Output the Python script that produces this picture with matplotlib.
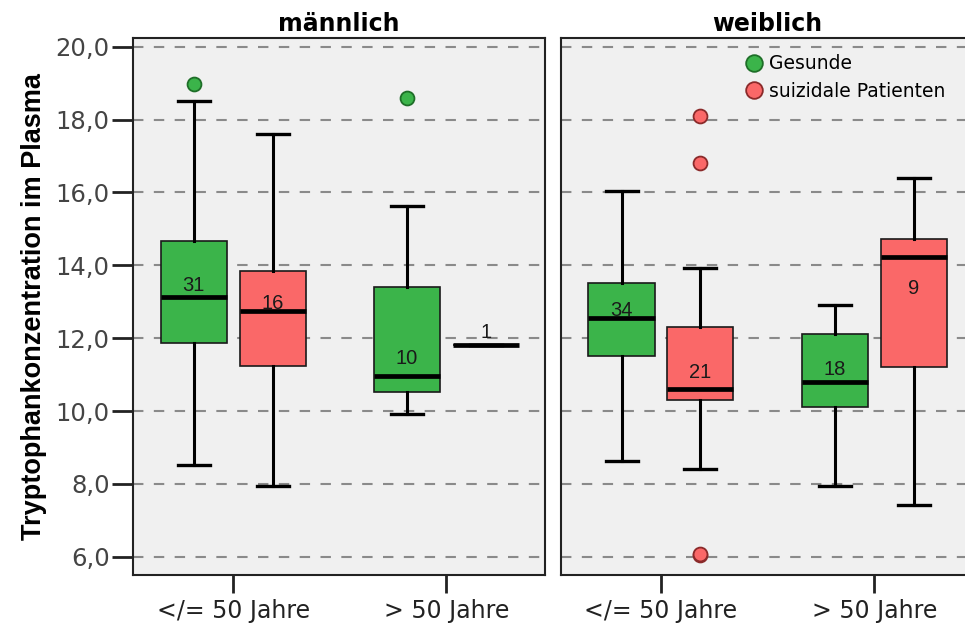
import matplotlib
matplotlib.use("Agg")
import matplotlib.pyplot as plt
from matplotlib.lines import Line2D

plt.rcParams["font.family"] = ["Liberation Sans", "DejaVu Sans"]
WIDE = ["DejaVu Sans"]

# Altersgruppen und Gruppen
age_groups = ["</= 50 Jahre", "> 50 Jahre"]
sexes = ["männlich", "weiblich"]
groups = ["Gesunde", "suizidale Patienten"]

# Kennwerte je Geschlecht -> Altersgruppe -> [Gesunde, suizidale Patienten]
whislo = {"männlich": [[8.51, 7.93], [9.93, 11.82]],
          "weiblich": [[8.62, 8.41], [7.93, 7.41]]}
q1 = {"männlich": [[11.87, 11.25], [10.52, 11.82]],
      "weiblich": [[11.50, 10.31], [10.10, 11.20]]}
median = {"männlich": [[13.12, 12.74], [10.97, 11.82]],
          "weiblich": [[12.55, 10.60], [10.81, 14.22]]}
q3 = {"männlich": [[14.66, 13.85], [13.41, 11.82]],
      "weiblich": [[13.51, 12.30], [12.11, 14.72]]}
whishi = {"männlich": [[18.50, 17.60], [15.62, 11.82]],
          "weiblich": [[16.05, 13.92], [12.92, 16.41]]}
outliers = {"männlich": [[[18.98], []], [[18.59], []]],
            "weiblich": [[[], [18.10, 16.81, 6.05, 6.08]], [[], []]]}
n_counts = {"männlich": [[31, 16], [10, 1]],
            "weiblich": [[34, 21], [18, 9]]}
# Lage der Fallzahl-Beschriftung (Mittelwert)
label_y = {"männlich": [[13.45, 12.95], [11.45, 12.15]],
           "weiblich": [[12.75, 11.05], [11.15, 13.35]]}

yticks = [6, 8, 10, 12, 14, 16, 18, 20]

fill_colors = ["#3bb44a", "#fa6868"]
edge_colors = ["#1e6e28", "#8a2a2a"]

fig = plt.figure(figsize=(9.65, 6.23), dpi=100)
ax_l = fig.add_axes([0.1381, 0.0770, 0.4269, 0.8615])
ax_r = fig.add_axes([0.5813, 0.0770, 0.4269, 0.8615])

offset = 0.185
box_w = 0.31

for ax, sex in zip([ax_l, ax_r], sexes):
    ax.set_facecolor("#f0f0f0")
    for y in yticks:
        ax.axhline(y, color="#8a8a8a", lw=1.5, dashes=(5, 5), zorder=0)
    for ai in range(len(age_groups)):
        for gi in range(len(groups)):
            stats = [{
                "whislo": whislo[sex][ai][gi],
                "q1": q1[sex][ai][gi],
                "med": median[sex][ai][gi],
                "q3": q3[sex][ai][gi],
                "whishi": whishi[sex][ai][gi],
                "fliers": outliers[sex][ai][gi],
            }]
            pos = ai + (gi - 0.5) * 2 * offset
            ax.bxp(stats, positions=[pos], widths=box_w, capwidths=0.15,
                   patch_artist=True, manage_ticks=False,
                   boxprops=dict(facecolor=fill_colors[gi], edgecolor="#1a1a1a", lw=1.2),
                   medianprops=dict(color="black", lw=3.4, solid_capstyle="butt"),
                   whiskerprops=dict(color="black", lw=2.2),
                   capprops=dict(color="black", lw=2.4),
                   flierprops=dict(marker="o", markersize=10,
                                   markerfacecolor=fill_colors[gi],
                                   markeredgecolor=edge_colors[gi],
                                   markeredgewidth=1.3),
                   zorder=3)
            ax.text(pos, label_y[sex][ai][gi], str(n_counts[sex][ai][gi]),
                    ha="center", va="center", fontsize=14.5, color="#1a1a1a", zorder=4)
    ax.set_xlim(-0.469, 1.463)
    ax.set_ylim(5.5, 20.23)
    ax.set_xticks(range(len(age_groups)))
    ax.set_xticklabels(age_groups, fontsize=17, color="#222222", family=WIDE)
    ax.tick_params(axis="x", length=13, width=2, color="#222222", pad=4)
    ax.set_title(sex, fontsize=17, fontweight="bold", pad=5, family=WIDE)
    for sp in ax.spines.values():
        sp.set_color("#222222")
        sp.set_linewidth(1.5)

ax_l.set_yticks(yticks)
ax_l.set_yticklabels([f"{v:.1f}".replace(".", ",") for v in yticks],
                     fontsize=17.5, color="#444444", family=WIDE)
ax_l.tick_params(axis="y", length=15, width=2, color="#222222", pad=2)
ax_l.set_ylabel("Tryptophankonzentration im Plasma", fontsize=19.5,
                fontweight="bold", labelpad=6)
ax_r.set_yticks([])

handles = [Line2D([], [], ls="none", marker="o", markersize=12,
                  markerfacecolor=fill_colors[i], markeredgecolor=edge_colors[i],
                  markeredgewidth=1.3) for i in range(2)]
ax_r.legend(handles, groups, loc="upper left", bbox_to_anchor=(0.415, 0.995),
            frameon=False, prop=dict(family=WIDE, size=13.5), handletextpad=0.3,
            labelspacing=0.45, borderpad=0.2, handlelength=1.0)

fig.savefig("out.png", dpi=100)
